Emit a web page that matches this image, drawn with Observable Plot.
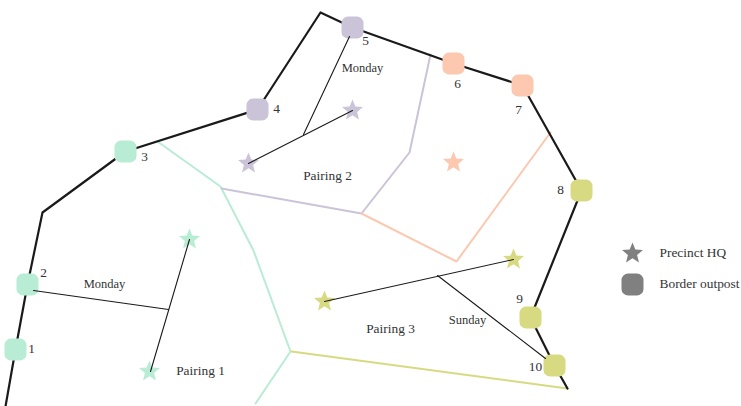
<!DOCTYPE html>
<html>
<head>
<meta charset="utf-8">
<script src="https://cdn.jsdelivr.net/npm/d3@7"></script>
<script src="https://cdn.jsdelivr.net/npm/@observablehq/plot@0.6"></script>
<style>
html,body{margin:0;padding:0;background:#fff}
svg{display:block}
</style>
</head>
<body>
<div id="chart"></div>
<script>
// Map coordinates of the schematic
const outerBorder = [[5,406],[15,349],[27,284],[42,212],[125,151],[257,109],[320,12],[352,27],[453,63],[522,85],[581,190],[530,317],[554,365],[567,388]];
const greenBorder = [[157,141],[220,186],[253,250],[290,351],[255,403]];
const purpleBorder = [[221,188],[361,213],[409,152],[430,54]];
const peachBorder = [[361,213],[456,261],[550,132]];
const yellowBorder = [[291,351],[567,388]];

const outpostNames = ["1","2","3","4","5","6","7","8","9","10"];
const outpostX = [15,27,125,257,352,453,522,581,530,554];
const outpostY = [349,284,151,109,27,63,85,190,317,365];
const outpostZone = ["a","a","a","b","b","c","c","d","d","d"];
const outpostLabelX = [31,43,144,276,365,457,518,560,519,535];
const outpostLabelY = [349,273,157,109,41,84,110,190,299,367];

const hqX = [189,149,248,352,453,324,513];
const hqY = [239,371,163,110,162,301,259];
const hqZone = ["a","a","b","b","c","d","d"];

const pairLines = [
  [[150,371],[189,239]],
  [[33,290],[168,309]],
  [[248,163],[352,110]],
  [[349,36],[303,134]],
  [[324,301],[513,259]],
  [[437,275],[545,358]]
];

const textLabels = ["Monday","Monday","Sunday","Pairing 1","Pairing 2","Pairing 3"];
const textX = [104,362,467,200,327,390];
const textY = [284,68,320,371,176,329];
const textSize = [12.5,12.5,12.5,13.4,13.4,13.4];

const legendLabels = ["Precinct HQ","Border outpost"];
const legendX = [632,632];
const legendY = [253,284];
const legendTextX = [659,659];

const zones = ["a","b","c","d"];
const zoneColors = ["#b9ecd5","#cbc3d7","#fcc8b0","#d8da82"];
const gray = "#808080";
const textColor = "#333";

const roundedSquare = {
  draw(ctx, size) {
    const w = Math.sqrt(size), h = w / 2, r = w * 0.3;
    ctx.moveTo(-h + r, -h);
    ctx.arcTo(h, -h, h, h, r);
    ctx.arcTo(h, h, -h, h, r);
    ctx.arcTo(-h, h, -h, -h, r);
    ctx.arcTo(-h, -h, h, -h, r);
    ctx.closePath();
  }
};
const fatStar = {
  draw(ctx, size) {
    const R = Math.sqrt(size), inner = R * 0.44;
    for (let i = 0; i < 10; ++i) {
      const a = -Math.PI / 2 + i * Math.PI / 5, r = i % 2 ? inner : R;
      const px = r * Math.cos(a), py = r * Math.sin(a);
      if (i) ctx.lineTo(px, py); else ctx.moveTo(px, py);
    }
    ctx.closePath();
  }
};

const colorOf = z => zoneColors[zones.indexOf(z)];
const xy = pts => pts.map(([x, y]) => ({x, y}));
const border = (pts, stroke, strokeWidth) => Plot.line(xy(pts), {x: "x", y: "y", stroke, strokeWidth, curve: "linear"});

const outposts = outpostNames.map((n, i) => ({n, x: outpostX[i], y: outpostY[i], z: outpostZone[i], lx: outpostLabelX[i], ly: outpostLabelY[i]}));
const hqs = hqX.map((x, i) => ({x, y: hqY[i], z: hqZone[i]}));
const texts = textLabels.map((t, i) => ({t, x: textX[i], y: textY[i], s: textSize[i]}));
const font = "'Liberation Serif', serif";

const starR = 11 / Math.sqrt(Math.PI);
const squareR = 22 / Math.sqrt(Math.PI);

const plot = Plot.plot({
  width: 741, height: 406,
  margin: 0,
  style: {background: "#fff", fontFamily: font},
  x: {domain: [0, 741], range: [0, 741], axis: null},
  y: {domain: [0, 406], range: [0, 406], axis: null},
  marks: [
    border(greenBorder, zoneColors[0], 2),
    border(purpleBorder, zoneColors[1], 2),
    border(peachBorder, zoneColors[2], 2),
    border(yellowBorder, zoneColors[3], 2),
    border(outerBorder, "#1a1a1a", 2.2),
    Plot.dot(hqs, {x: "x", y: "y", r: starR, symbol: fatStar, fill: d => colorOf(d.z), stroke: "none"}),
    Plot.dot(outposts, {x: "x", y: "y", r: squareR, symbol: roundedSquare, fill: d => colorOf(d.z), stroke: "none"}),
    ...pairLines.map(p => border(p, "#1a1a1a", 1.1)),
    ...[12.5, 13.4].map(s => Plot.text(texts.filter(d => d.s === s), {x: "x", y: "y", dy: -0.5, text: "t", fontSize: s, fill: textColor, fontFamily: font})),
    Plot.text(outposts, {x: "lx", y: "ly", dy: -0.5, text: "n", fontSize: 13.4, fill: textColor, fontFamily: font}),
    Plot.dot([{x: legendX[0], y: legendY[0]}], {x: "x", y: "y", r: starR, symbol: fatStar, fill: gray, stroke: "none"}),
    Plot.dot([{x: legendX[1], y: legendY[1]}], {x: "x", y: "y", r: squareR, symbol: roundedSquare, fill: gray, stroke: "none"}),
    Plot.text(legendLabels.map((t, i) => ({t, x: legendTextX[i], y: legendY[i]})), {x: "x", y: "y", dy: -0.5, text: "t", textAnchor: "start", fontSize: 13.4, fill: textColor, fontFamily: font})
  ]
});
document.getElementById("chart").appendChild(plot);
</script>
</body>
</html>
